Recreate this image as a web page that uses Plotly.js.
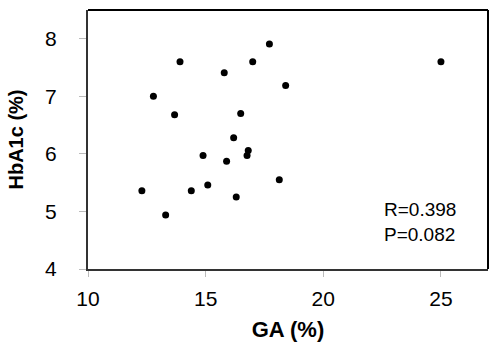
<!DOCTYPE html>
<html><head><meta charset="utf-8">
<script src="https://cdn.plot.ly/plotly-3.0.1.min.js"></script>
<style>html,body{margin:0;padding:0;background:#fff}#chart{width:500px;height:346px}</style>
</head><body><div id="chart"></div>
<script>
const gaValues = [13.91, 15.79, 12.78, 13.68, 16.49, 16.19, 14.89, 15.89, 16.81, 16.76, 17.71, 17.0, 18.40, 25.0, 12.29, 13.30, 14.39, 15.09, 16.30, 18.13];
const hba1cValues = [7.6, 7.41, 7.0, 6.68, 6.70, 6.28, 5.97, 5.87, 6.06, 5.97, 7.91, 7.6, 7.19, 7.6, 5.36, 4.94, 5.36, 5.46, 5.25, 5.55];
const xTicks = [10, 15, 20, 25];
const yTicks = [4, 5, 6, 7, 8];
const statsText = "R=0.398<br>P=0.082";

const font = "Liberation Sans, Arial, sans-serif";
Plotly.newPlot('chart', [{
  x: gaValues, y: hba1cValues, type: 'scatter', mode: 'markers',
  marker: {color: '#000', size: 7}
}], {
  width: 500, height: 346,
  margin: {l: 88, r: 12, t: 10, b: 77},
  paper_bgcolor: '#fff', plot_bgcolor: '#fff',
  showlegend: false,
  xaxis: {range: [10, 27], tickvals: xTicks, ticktext: xTicks.map(String),
    showgrid: false, zeroline: false, showline: true, linecolor: '#333', linewidth: 2,
    ticks: 'outside', ticklen: 6, tickcolor: '#bbb', tickwidth: 1,
    ticklabelstandoff: 4,
    tickfont: {family: font, size: 21, color: '#000'},
    title: {text: 'GA (%)', font: {family: font, size: 22, color: '#000', weight: 'bold'}, standoff: 12}},
  yaxis: {range: [4, 8.5], tickvals: yTicks, ticktext: yTicks.map(String),
    showgrid: false, zeroline: false, showline: true, linecolor: '#333', linewidth: 2,
    ticks: 'outside', ticklen: 7, tickcolor: '#bbb', tickwidth: 1,
    ticklabelstandoff: 18,
    tickfont: {family: font, size: 21, color: '#000'},
    title: {text: 'HbA1c (%)', font: {family: font, size: 20, color: '#000', weight: 'bold'}, standoff: 16}},
  shapes: [
    {type: 'line', xref: 'paper', yref: 'paper', x0: 0, x1: 1, y0: 1, y1: 1, line: {color: '#000', width: 2}},
    {type: 'line', xref: 'paper', yref: 'paper', x0: 1, x1: 1, y0: 0, y1: 1, line: {color: '#000', width: 2}}
  ],
  annotations: [{text: statsText, xref: 'paper', yref: 'paper', x: 0.735, y: 0.183, xanchor: 'left', yanchor: 'middle',
    align: 'left', showarrow: false, font: {family: font, size: 19, color: '#000'}}]
}, {staticPlot: true});
</script></body></html>
